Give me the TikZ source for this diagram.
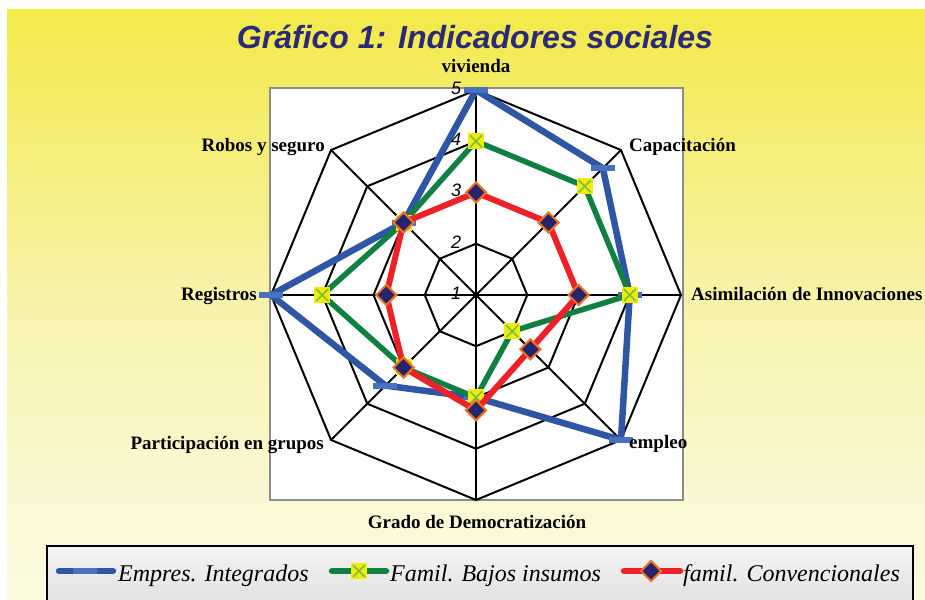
\documentclass[tikz,border=0pt]{standalone}
\usepackage{fontspec}
\setmainfont{Liberation Serif}
\newfontfamily\arialf{Liberation Sans}
\usetikzlibrary{shapes.geometric}
\definecolor{blin}{HTML}{2F55A5}
\definecolor{bmk}{HTML}{4A70C0}
\definecolor{glin}{HTML}{0F8040}
\definecolor{gx}{HTML}{78C040}
\definecolor{gsq}{HTML}{F2EB0C}
\definecolor{rlin}{HTML}{EE2028}
\definecolor{rfill}{HTML}{25256E}
\definecolor{rbord}{HTML}{F07020}
\definecolor{titc}{HTML}{2A2A78}
\definecolor{frgray}{HTML}{8C8C8C}
\pgfdeclareverticalshading{bgshade}{100bp}{rgb(0bp)=(0.996,0.996,0.973); rgb(16.8bp)=(0.992,0.988,0.92); rgb(33.8bp)=(0.982,0.972,0.83); rgb(50.8bp)=(0.97,0.95,0.66); rgb(67.7bp)=(0.955,0.925,0.40); rgb(84.7bp)=(0.947,0.906,0.14); rgb(93bp)=(0.945,0.902,0.04); rgb(100bp)=(0.945,0.9,0.0)}
\pgfdeclareverticalshading{legshade}{100bp}{rgb(0bp)=(0.84,0.84,0.84); rgb(100bp)=(1,1,1)}
\tikzset{
  gridline/.style={black, line width=2pt},
  bline/.style={blin, line width=6.5pt, line join=round},
  gline/.style={glin, line width=5.5pt, line join=round},
  rline/.style={rlin, line width=6pt, line join=round},
  bmark/.style={rectangle, fill=bmk, minimum width=24pt, minimum height=6pt, inner sep=0pt},
  gmark/.style={rectangle, fill=gsq, minimum size=16pt, inner sep=0pt,
    path picture={\draw[gx, line width=1.6pt]
      ([shift={(2pt,2pt)}]path picture bounding box.south west) -- ([shift={(-2pt,-2pt)}]path picture bounding box.north east)
      ([shift={(2pt,-2pt)}]path picture bounding box.north west) -- ([shift={(-2pt,2pt)}]path picture bounding box.south east);}},
  rmark/.style={diamond, aspect=1, fill=rfill, draw=rbord, line width=2pt, minimum width=21pt, minimum height=21pt, inner sep=0pt},
  axlab/.style={font=\bfseries\fontsize{19}{22}\selectfont, inner sep=0pt},
  scalelab/.style={font=\arialf\itshape\fontsize{18}{20}\selectfont, inner sep=0pt},
  leglab/.style={font=\itshape\fontsize{24}{28}\selectfont, inner sep=0pt, anchor=base west}
}
\begin{document}
\begin{tikzpicture}[x=1pt,y=1pt]
\useasboundingbox (0,0) rectangle (925,599);
\fill[white] (0,0) rectangle (925,599);
\shade[shading=bgshade] (7,0) rectangle (925,589);
% plot frame
\filldraw[fill=white, draw=frgray, line width=2pt] (270,99) rectangle (683,511);
% grid
\begin{scope}[shift={(476,304)}]
  \coordinate (O) at (0,0);
  \foreach \r in {51.25,102.5,153.75,205}
    \draw[gridline, line join=miter] (90:\r) -- (45:\r) -- (0:\r) -- (-45:\r) -- (-90:\r) -- (-135:\r) -- (180:\r) -- (135:\r) -- cycle;
  \foreach \a [count=\i] in {90,45,0,-45,-90,-135,180,135}
    {\coordinate (ax\i) at (\a:205); \draw[gridline] (O) -- (ax\i);}
  % data coordinates
  \foreach \a/\v [count=\i] in {90/5,45/4.5,0/4,-45/5,-90/3,-135/3.5,180/5,135/3}
    \coordinate (b\i) at (\a:{(\v-1)*51.25});
  \foreach \a/\v [count=\i] in {90/4,45/4,0/4,-45/2,-90/3,-135/3,180/4,135/3}
    \coordinate (g\i) at (\a:{(\v-1)*51.25});
  \foreach \a/\v [count=\i] in {90/3,45/3,0/3,-45/2.5,-90/3.25,-135/3,180/2.75,135/3}
    \coordinate (r\i) at (\a:{(\v-1)*51.25});
\end{scope}
% series: Empres. Integrados
\draw[bline] (b1) -- (b2) -- (b3) -- (b4) -- (b5) -- (b6) -- (b7) -- (b8) -- cycle;
\foreach \i in {1,...,8} \node[bmark] (bm\i) at (b\i) {};
% series: Famil. Bajos insumos
\draw[gline] (g1) -- (g2) -- (g3) -- (g4) -- (g5) -- (g6) -- (g7) -- (g8) -- cycle;
\foreach \i in {1,...,8} \node[gmark] (gm\i) at (g\i) {};
% series: famil. Convencionales
\draw[rline] (r1) -- (r2) -- (r3) -- (r4) -- (r5) -- (r6) -- (r7) -- (r8) -- cycle;
\foreach \i in {1,...,8} \node[rmark] (rm\i) at (r\i) {};
% scale labels
\foreach \v in {1,...,5}
  \node[scalelab] (sc\v) at (456,{306+(\v-1)*51.25}) {\v};
% axis labels
\node[axlab, anchor=base] (lviv) at (476,526) {vivienda};
\node[axlab, anchor=base west] (lcap) at (629,447) {Capacitación};
\node[axlab, anchor=base west] (lasi) at (691,298) {Asimilación de Innovaciones};
\node[axlab, anchor=base west] (lemp) at (629,150) {empleo};
\node[axlab, anchor=base] (lgra) at (477,70) {Grado de Democratización};
\node[axlab, anchor=base east] (lpar) at (324,149) {Participación en grupos};
\node[axlab, anchor=base east] (lreg) at (257,298) {Registros};
\node[axlab, anchor=base east] (lrob) at (325,447) {Robos y seguro};
% title
\node[font=\arialf\bfseries\itshape\fontsize{32}{36}\selectfont, text=titc, anchor=base, inner sep=0pt] (title) at (475,550) {Gráfico 1: Indicadores sociales};
% legend
\shade[shading=legshade] (47,-4) rectangle (913,53);
\draw[black, line width=2pt] (47,-4) rectangle (913,53) ;
\coordinate (la1) at (59,28); \coordinate (lb1) at (113,28);
\draw[bline, line cap=round] (la1) -- (lb1);
\node[bmark] (lm1) at (85,28) {};
\node[leglab] (lt1) at (118,17) {Empres. Integrados};
\coordinate (la2) at (332,28); \coordinate (lb2) at (386,28);
\draw[gline, line width=6.5pt, line cap=round] (la2) -- (lb2);
\node[gmark] (lm2) at (359,28) {};
\node[leglab] (lt2) at (390,17) {Famil. Bajos insumos};
\coordinate (la3) at (624,28); \coordinate (lb3) at (680,28);
\draw[rline, line width=6.5pt, line cap=round] (la3) -- (lb3);
\node[rmark] (lm3) at (651,28) {};
\node[leglab] (lt3) at (683,17) {famil. Convencionales};
\end{tikzpicture}
\end{document}
